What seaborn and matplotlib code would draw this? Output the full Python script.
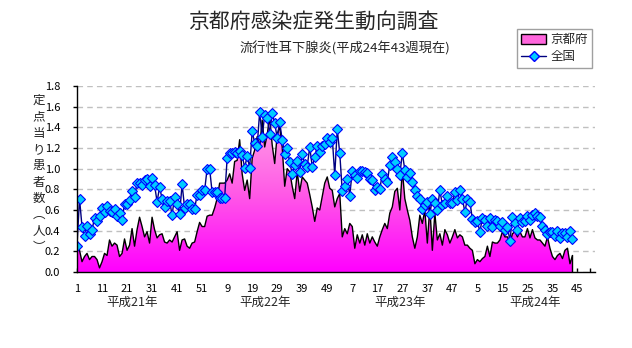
import numpy as np
import pandas as pd
import matplotlib
matplotlib.use('Agg')
import matplotlib.pyplot as plt
import seaborn as sns
from matplotlib.colors import LinearSegmentedColormap
from matplotlib.lines import Line2D
from matplotlib.patches import Patch

# ---------------- data ----------------
title = '京都府感染症発生動向調査'
subtitle = '流行性耳下腺炎(平成24年43週現在)'
series_names = ['京都府', '全国']
year_labels = ['平成21年', '平成22年', '平成23年', '平成24年']
year_label_pos = [22, 75, 129, 183]          # category index under which the year is written
x_tick_labels = ['1', '11', '21', '31', '41', '51', '9', '19', '29', '39', '49',
                 '7', '17', '27', '37', '47', '5', '15', '25', '35', '45']
y_label = '定点当り患者数（人）'
n_categories = 208                           # 4 years x 52 weeks

kyoto = [0.31, 0.21, 0.10, 0.15, 0.18, 0.12, 0.15, 0.15, 0.12, 0.04,
         0.10, 0.18, 0.16, 0.31, 0.25, 0.28, 0.26, 0.15, 0.18, 0.32,
         0.21, 0.26, 0.42, 0.25, 0.41, 0.53, 0.44, 0.34, 0.39, 0.28,
         0.53, 0.41, 0.33, 0.36, 0.37, 0.29, 0.28, 0.31, 0.29, 0.34,
         0.39, 0.21, 0.31, 0.32, 0.25, 0.23, 0.28, 0.29, 0.39, 0.48,
         0.44, 0.44, 0.54, 0.55, 0.55, 0.62, 0.71, 0.86, 0.86, 0.86,
         0.89, 0.95, 0.86, 1.07, 1.08, 1.28, 0.95, 0.79, 0.89, 0.71,
         1.10, 1.18, 1.31, 1.21, 1.47, 1.21, 1.33, 1.50, 1.23, 1.05,
         1.33, 1.41, 1.21, 0.83, 1.00, 0.97, 0.83, 0.71, 0.97, 0.78,
         0.92, 0.89, 0.86, 0.75, 0.63, 0.49, 0.62, 0.60, 0.73, 0.86,
         0.92, 0.81, 0.79, 0.63, 0.71, 0.76, 0.34, 0.42, 0.37, 0.47,
         0.44, 0.23, 0.36, 0.28, 0.36, 0.26, 0.37, 0.28, 0.34, 0.29,
         0.25, 0.34, 0.41, 0.47, 0.42, 0.57, 0.63, 0.78, 0.81, 0.60,
         0.99, 0.71, 0.60, 0.50, 0.34, 0.23, 0.34, 0.55, 0.47, 0.60,
         0.28, 0.63, 0.21, 0.57, 0.31, 0.37, 0.26, 0.41, 0.36, 0.28,
         0.34, 0.41, 0.33, 0.36, 0.34, 0.26, 0.26, 0.23, 0.21, 0.08,
         0.12, 0.10, 0.13, 0.15, 0.25, 0.15, 0.29, 0.28, 0.28, 0.31,
         0.39, 0.34, 0.34, 0.28, 0.37, 0.39, 0.34, 0.39, 0.34, 0.34,
         0.42, 0.33, 0.41, 0.33, 0.31, 0.31, 0.28, 0.25, 0.34, 0.23,
         0.15, 0.12, 0.16, 0.18, 0.13, 0.21, 0.23, 0.08, 0.16]

national = [0.25, 0.71, 0.44, 0.35, 0.45, 0.37, 0.41, 0.52, 0.49, 0.54,
            0.62, 0.58, 0.64, 0.59, 0.58, 0.61, 0.54, 0.57, 0.50, 0.66,
            0.66, 0.70, 0.78, 0.73, 0.86, 0.86, 0.84, 0.89, 0.90, 0.83,
            0.91, 0.84, 0.68, 0.82, 0.71, 0.63, 0.69, 0.69, 0.55, 0.73,
            0.66, 0.56, 0.85, 0.62, 0.66, 0.66, 0.61, 0.61, 0.75, 0.75,
            0.79, 0.79, 1.00, 1.00, 0.77, 0.77, 0.77, 0.72, 0.72, 0.72,
            1.10, 1.15, 1.15, 1.16, 1.15, 1.17, 1.13, 1.01, 1.12, 1.01,
            1.36, 1.25, 1.22, 1.55, 1.31, 1.52, 1.49, 1.34, 1.54, 1.44,
            1.30, 1.45, 1.28, 1.14, 1.20, 1.06, 0.95, 1.04, 1.07, 0.97,
            1.14, 1.05, 1.02, 1.21, 1.02, 1.11, 1.22, 1.16, 1.22, 1.24,
            1.30, 1.26, 1.30, 0.94, 1.38, 1.15, 0.78, 0.83, 0.90, 0.74,
            0.98, 0.94, 0.91, 0.98, 0.98, 0.97, 0.96, 0.90, 0.89, 0.79,
            0.82, 0.80, 0.95, 0.90, 0.87, 1.04, 1.11, 1.06, 1.00, 0.94,
            1.15, 0.99, 0.92, 0.96, 0.87, 0.79, 0.74, 0.71, 0.61, 0.65,
            0.68, 0.56, 0.71, 0.67, 0.60, 0.79, 0.65, 0.67, 0.74, 0.67,
            0.67, 0.77, 0.70, 0.79, 0.71, 0.58, 0.71, 0.68, 0.51, 0.48,
            0.49, 0.39, 0.52, 0.50, 0.45, 0.52, 0.44, 0.50, 0.49, 0.45,
            0.48, 0.41, 0.44, 0.30, 0.53, 0.47, 0.41, 0.52, 0.48, 0.49,
            0.54, 0.50, 0.55, 0.57, 0.54, 0.53, 0.45, 0.41, 0.37, 0.39,
            0.39, 0.35, 0.40, 0.33, 0.38, 0.38, 0.34, 0.40, 0.32]

# ---------------- style ----------------
sns.set_theme(style='white')
plt.rcParams['font.family'] = ['Noto Sans CJK JP', 'DejaVu Sans']

W, H = 632, 348
fig = plt.figure(figsize=(W / 100, H / 100), dpi=100)
fig.patch.set_facecolor('white')
ax = fig.add_axes([77 / W, 1 - 272 / H, 518 / W, 186 / H])

n = len(kyoto)
x = np.arange(n)
df = pd.DataFrame({'週': x, series_names[0]: kyoto, series_names[1]: national})

ymax = 1.8

# gridlines behind the series
ax.set_axisbelow(True)
ax.set_yticks(np.round(np.arange(0, ymax + 0.01, 0.2), 1))
ax.yaxis.grid(True, linestyle=(0, (4, 3)), color='#C0C0C0', linewidth=1.0)
ax.xaxis.grid(False)

# gradient-filled area (Kyoto)
cmap = LinearSegmentedColormap.from_list('pinkgrad', ['#FF00FF', '#FF5CE6', '#FFA6E6'])
poly = ax.fill_between(df['週'], 0, df[series_names[0]], facecolor='none', edgecolor='none')
grad = np.linspace(0, 1, 256).reshape(-1, 1)
im = ax.imshow(grad, extent=[0, n - 1, 0, 1.55], origin='lower', aspect='auto',
               cmap=cmap, zorder=1, interpolation='bilinear')
im.set_clip_path(poly.get_paths()[0], transform=ax.transData)

sns.lineplot(data=df, x='週', y=series_names[0], color='black', linewidth=1.0,
             ax=ax, zorder=2, legend=False)
ax.vlines(n - 1, 0, kyoto[-1], color='black', linewidth=1.0, zorder=2)

# national line with markers
sns.lineplot(data=df, x='週', y=series_names[1], color='#000080', linewidth=1.0,
             marker='D', markersize=4.8, markerfacecolor='#00CCFF',
             markeredgecolor='#0000FF', markeredgewidth=0.8, ax=ax, zorder=3, legend=False)

ax.set_xlim(0, n_categories - 1)
ax.set_ylim(0, ymax)

# axes styling
for s in ['top', 'right']:
    ax.spines[s].set_visible(False)
for s in ['left', 'bottom']:
    ax.spines[s].set_color('black')
    ax.spines[s].set_linewidth(1.0)
    ax.spines[s].set_zorder(5)

ax.set_yticklabels([f'{v:.1f}' for v in ax.get_yticks()], fontsize=8)
ax.tick_params(axis='y', which='major', direction='out', length=3, width=1,
               color='black', pad=9, labelcolor='black', left=True)

tick_pos = list(range(0, 201, 10))
ax.set_xticks(tick_pos)
ax.set_xticklabels(x_tick_labels, fontsize=8)
ax.set_xticks(range(5, n_categories, 10), minor=True)
ax.tick_params(axis='x', which='both', direction='in', length=3, width=1,
               color='black', pad=9, labelcolor='black', bottom=True)
ax.set_xlabel('')
ax.set_ylabel('')

# year labels under the axis
for lab, pos in zip(year_labels, year_label_pos):
    xf = (77 + pos * 518 / (n_categories - 1)) / W
    fig.text(xf, 1 - 302 / H, lab, fontsize=9, ha='center', va='center')

# vertical y-axis label (vertical writing: brackets use their vertical forms)
vertical = y_label.replace('（', '︵').replace('）', '︶')
fig.text(38.5 / W, 1 - 174 / H, '\n'.join(vertical), fontsize=9, ha='center',
         va='center', linespacing=1.33)

# titles
fig.text(313 / W, 1 - 22 / H, title, fontsize=15, ha='center', va='center')
fig.text(345 / W, 1 - 48 / H, subtitle, fontsize=9.5, ha='center', va='center')

# legend
handles = [Patch(facecolor='#FF66DD', edgecolor='black', linewidth=1.0),
           Line2D([0], [0], color='#000080', lw=1.0, marker='D', markersize=4.8,
                  markerfacecolor='#00CCFF', markeredgecolor='#0000FF')]
leg = fig.legend(handles, series_names, loc='upper left',
                 bbox_to_anchor=(517 / W, 1 - 29 / H), fontsize=9, frameon=True,
                 fancybox=False, framealpha=1, edgecolor='#A0A0A0',
                 handlelength=2.0, handleheight=0.8, handletextpad=0.3,
                 borderpad=0.35, labelspacing=0.3, borderaxespad=0)
leg.get_frame().set_linewidth(1.0)

fig.savefig('out.png', dpi=100, facecolor='white')
